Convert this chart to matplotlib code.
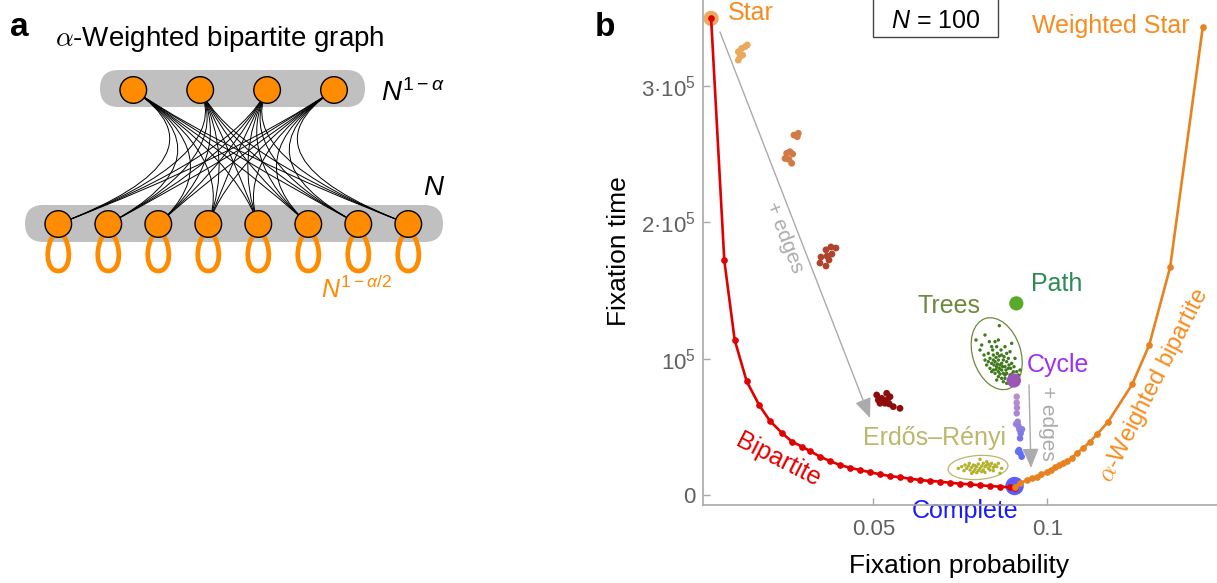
import matplotlib
matplotlib.use('Agg')
import matplotlib.pyplot as plt
from matplotlib.patches import Circle, Ellipse, FancyBboxPatch, Rectangle, PathPatch
from matplotlib.path import Path

plt.rcParams['font.family'] = ['Liberation Sans', 'DejaVu Sans']
plt.rcParams['mathtext.fontset'] = 'custom'
plt.rcParams['mathtext.rm'] = 'Liberation Sans'
plt.rcParams['mathtext.it'] = 'Liberation Sans:italic'
plt.rcParams['mathtext.bf'] = 'Liberation Sans:bold'

W, H, DPI = 1217, 583, 100

# ------------------------------------------------------------------ data
# Bipartite family (red), from the Star to the Complete graph
bip_p = [0.0034, 0.00718, 0.01017, 0.01362, 0.01724, 0.02032, 0.02368, 0.02664,
         0.0296, 0.0318, 0.0347, 0.0376, 0.0404, 0.0433, 0.0462, 0.0491, 0.0519,
         0.0548, 0.0577, 0.0605, 0.0634, 0.0663, 0.0692, 0.0720, 0.0749, 0.0778,
         0.0807, 0.0835, 0.0864, 0.0893, 0.0906]
bip_t = [349700, 172200, 113700, 83400, 65800, 54300, 45700, 39100,
         35400, 32300, 28100, 24900, 22000, 20000, 18300, 16700, 15200,
         13900, 13000, 12000, 11000, 10300, 9800, 9000, 8300, 7850,
         7100, 6600, 6100, 5650, 5500]

# alpha-weighted bipartite family (orange), from Complete to Weighted Star
wbip_p = [0.0906, 0.0922, 0.0941, 0.0955, 0.0970, 0.0983, 0.0998, 0.1011, 0.1022,
          0.1034, 0.1046, 0.1058, 0.1070, 0.1084, 0.1103, 0.1123, 0.1144, 0.1175,
          0.1244, 0.1293, 0.1353, 0.1447]
wbip_t = [6000, 8700, 11000, 12200, 13400, 15200, 17100, 18700, 20300,
          21800, 23300, 25000, 26900, 30600, 34300, 39100, 44800, 53800,
          81200, 110100, 167100, 343600]

star_p, star_t = 0.0034, 349700
complete_p, complete_t = 0.0906, 6600
cycle_p, cycle_t = 0.0904, 84000
path_p, path_t = 0.0911, 140600

# Star + edges clusters (light -> dark)
se1_p = [0.01121, 0.01218, 0.01313, 0.01379, 0.01170, 0.01121, 0.01247]
se1_t = [325200, 327700, 328900, 330200, 321600, 319100, 322800]
se2_p = [0.02721, 0.02845, 0.02816, 0.02511, 0.02606, 0.02684, 0.02463, 0.02578, 0.02655]
se2_t = [264100, 265400, 262900, 250700, 251900, 250200, 246900, 246200, 243400]
se3_p = [0.03641, 0.03784, 0.03928, 0.03497, 0.03670, 0.03813, 0.03468, 0.03641, 0.03727]
se3_t = [179900, 182000, 181200, 174600, 175300, 176800, 170200, 168000, 172400]
se4_p = [0.05098, 0.05241, 0.05385, 0.05480, 0.05193, 0.05336, 0.05460, 0.05575,
         0.05767, 0.05144, 0.05402]
se4_t = [73400, 70900, 74600, 72100, 67300, 67300, 66800, 64800, 63600, 69700, 69700]

# Random trees
trees_p = [0.08622, 0.08210, 0.07952, 0.08115, 0.08335, 0.08498, 0.08594, 0.08402,
           0.08546, 0.08670, 0.08785, 0.08977, 0.08210, 0.08354, 0.08450, 0.08565,
           0.08689, 0.08833, 0.08929, 0.09073, 0.08258, 0.08402, 0.08498, 0.08594,
           0.08737, 0.08833, 0.08977, 0.08354, 0.08450, 0.08546, 0.08641, 0.08785,
           0.08881, 0.09025, 0.08498, 0.08594, 0.08689, 0.08737, 0.08833, 0.08929,
           0.09121, 0.08594, 0.08689, 0.08785, 0.08881, 0.08977, 0.08737, 0.08833,
           0.09168, 0.09216, 0.08431, 0.08527, 0.08622, 0.08757, 0.08469, 0.08565,
           0.08689, 0.08900, 0.08306, 0.08402, 0.08527, 0.08622, 0.08814, 0.08948,
           0.08641, 0.08785, 0.08977, 0.08718, 0.08450, 0.08881, 0.09044, 0.08546,
           0.09073, 0.08067, 0.08182, 0.08306]
trees_t = [124240, 117390, 113720, 110050, 112500, 112500, 113720, 108830,
           108830, 106380, 108830, 111270, 99040, 100260, 102710, 103930,
           102710, 103930, 105160, 100260, 95370, 96600, 97820, 99040,
           99040, 97820, 96600, 92930, 91700, 94150, 95370, 94150,
           92930, 90480, 89260, 90480, 91700, 89260, 89260, 88040,
           90480, 86810, 85590, 85590, 84370, 85590, 83140, 81920,
           88040, 91700, 106380, 101000, 101980, 101490, 95370, 96110,
           96600, 95370, 97820, 90480, 92200, 92930, 91700, 92930,
           88770, 88040, 88770, 94150, 99040, 100260, 94150, 84370,
           84370, 106380, 102710, 103930]

# Erdos-Renyi graphs
er_p = [0.07444, 0.07540, 0.07636, 0.07683, 0.07731, 0.07779, 0.07827, 0.07875,
        0.07923, 0.07971, 0.08019, 0.08067, 0.08115, 0.08162, 0.08210, 0.08258,
        0.08306, 0.08354, 0.08402, 0.08450, 0.08498, 0.08546, 0.08641, 0.08689,
        0.08067, 0.08258, 0.07875, 0.07971, 0.08162, 0.08354, 0.07760, 0.07607,
        0.08450, 0.08594, 0.07827, 0.08115, 0.08306, 0.08019, 0.07923, 0.08210]
er_t = [19550, 20770, 21990, 19550, 21260, 18320, 20280, 21990,
        18810, 20770, 22730, 19550, 21260, 18320, 20770, 21990,
        19550, 21260, 23220, 20280, 21990, 20770, 15880, 19550,
        26150, 24440, 17100, 16370, 23220, 18320, 23220, 17840,
        17840, 23220, 15880, 17100, 22730, 17840, 21500, 16610]

# Cycle + edges
ce_p = [0.09121, 0.09121, 0.09130, 0.09121, 0.09102, 0.09150, 0.09169, 0.09198,
        0.09275, 0.09236, 0.09217, 0.09159, 0.09188, 0.09227, 0.09265]
ce_t = [72120, 67720, 64050, 59940, 52070, 53780, 50840, 48200,
        48200, 45270, 41600, 31800, 33020, 30590, 28100]

xticks = [0.05, 0.1]
xtick_labels = ['0.05', '0.1']
yticks = [0, 1e5, 2e5, 3e5]
ytick_labels = ['0', '$10^5$', '2·$10^5$', '3·$10^5$']

# ------------------------------------------------------------------ figure
fig = plt.figure(figsize=(W / DPI, H / DPI), dpi=DPI)
ax0 = fig.add_axes([0, 0, 1, 1], zorder=0)
ax0.set_xlim(0, W)
ax0.set_ylim(H, 0)
ax0.axis('off')

ORANGE = '#ff8c00'
BAND = '#c0c0c0'

# ---- panel a (pixel coordinates)
fig.text(10 / W, 1 - 36 / H, 'a', fontsize=24, fontweight='bold', ha='left', va='baseline')
ax0.text(55, 46, r'$\alpha$-Weighted bipartite graph', fontsize=20, ha='left',
         va='baseline', math_fontfamily='cm')

ax0.add_patch(FancyBboxPatch((100, 70), 265, 37,
                             boxstyle='round,pad=0,rounding_size=18.5',
                             fc=BAND, ec='none', zorder=1))
ax0.add_patch(FancyBboxPatch((25, 205), 418, 37,
                             boxstyle='round,pad=0,rounding_size=18.5',
                             fc=BAND, ec='none', zorder=1))

top_x = [133.3 + 66.9 * i for i in range(4)]
bot_x = [58.3 + 50 * i for i in range(8)]
top_y, bot_y = 90, 224
ctrl = (233.5, 157)
for xt in top_x:
    for xb in bot_x:
        pth = Path([(xt, top_y), ctrl, (xb, bot_y)], [Path.MOVETO, Path.CURVE3, Path.CURVE3])
        ax0.add_patch(PathPatch(pth, fc='none', ec='black', lw=0.7, zorder=2))
for xb in bot_x:
    loop = Path([(xb - 3, 232), (xb - 14, 246), (xb - 13, 271), (xb, 271),
                 (xb + 13, 271), (xb + 14, 246), (xb + 3, 232)],
                [Path.MOVETO, Path.CURVE4, Path.CURVE4, Path.CURVE4,
                 Path.CURVE4, Path.CURVE4, Path.CURVE4])
    ax0.add_patch(PathPatch(loop, fc='none', ec=ORANGE, lw=3.4, zorder=2))
for xt in top_x:
    ax0.add_patch(Circle((xt, top_y), 13.3, fc=ORANGE, ec='black', lw=1, zorder=3))
for xb in bot_x:
    ax0.add_patch(Circle((xb, bot_y), 13.3, fc=ORANGE, ec='black', lw=1, zorder=3))

ax0.text(381, 101, r'$N^{1-\alpha}$', fontsize=20, ha='left', va='baseline')
ax0.text(423, 195, r'$N$', fontsize=20, ha='left', va='baseline')
ax0.text(321, 298, r'$N^{1-\alpha/2}$', fontsize=18, ha='left', va='baseline', color=ORANGE)

# ---- panel b
fig.text(595 / W, 1 - 36 / H, 'b', fontsize=24, fontweight='bold', ha='left', va='baseline')

ax = fig.add_axes([702.7 / W, (H - 505.3) / H, (W - 702.7) / W, 505.3 / H], zorder=1)
ax.patch.set_alpha(0)
ax.set_xlim(0.00098, 0.14877)
ax.set_ylim(-7560, 363200)
for s in ['top', 'right']:
    ax.spines[s].set_visible(False)
for s in ['left', 'bottom']:
    ax.spines[s].set_color('#a8a8a8')
    ax.spines[s].set_linewidth(1.2)
ax.set_xticks(xticks)
ax.set_xticklabels(xtick_labels)
ax.set_yticks(yticks)
ax.set_yticklabels(ytick_labels)
ax.tick_params(axis='both', direction='in', length=5, width=1, color='#a8a8a8',
               labelsize=16, labelcolor='#606060')
ax.tick_params(axis='x', pad=10)
ax.tick_params(axis='y', pad=5)

# curves
ax.plot(bip_p, bip_t, '-o', color='#e00000', lw=1.9, ms=3.8, zorder=3, clip_on=False)
ax.plot(wbip_p, wbip_t, '-o', color='#e8821e', lw=1.9, ms=3.8, zorder=3, clip_on=False)

# star + edges clusters
for p, t, c in [(se1_p, se1_t, '#eaa95c'), (se2_p, se2_t, '#d37a44'),
                (se3_p, se3_t, '#b0432b'), (se4_p, se4_t, '#8e0c0c')]:
    ax.scatter(p, t, s=24, color=c, edgecolors='none', zorder=4, clip_on=False)

ax.scatter(trees_p, trees_t, s=6, color='#3f7a1c', edgecolors='none', zorder=4)
ax.scatter(er_p, er_t, s=6, color='#b3b22c', edgecolors='none', zorder=4)

ce_colors = ['#bb8cce', '#b68ace', '#b088d0', '#ab86d2', '#a083d6', '#9c82d8',
             '#9480dc', '#8b7ee0', '#8a7ee2', '#8079e6', '#7675ea', '#6a70f0',
             '#6670f2', '#626ef4', '#5e6cf6']
ax.scatter(ce_p, ce_t, s=22, color=ce_colors, edgecolors='none', zorder=4)

ax.scatter([star_p], [star_t], s=120, color='#ebaa5f', edgecolors='none', zorder=2, clip_on=False)
ax.scatter([complete_p], [complete_t], s=175, color='#5c5cff', edgecolors='none', zorder=2, clip_on=False)
ax.scatter([cycle_p], [cycle_t], s=105, color='#9b55b4', edgecolors='none', zorder=5)
ax.scatter([path_p], [path_t], s=105, color='#5aaa2a', edgecolors='none', zorder=5)

# ellipses around clusters (pixel space)
ax0.add_patch(Ellipse((996.7, 353.7), 48, 74, angle=-18, fc='none', ec='#6b8a3a', lw=0.9, zorder=1))
ax0.add_patch(Ellipse((978, 467.5), 60, 24, angle=-4, fc='none', ec='#bdb76b', lw=0.9, zorder=1))

# arrows
ax0.annotate('', xy=(870, 418), xytext=(720, 32),
             arrowprops=dict(arrowstyle='-|>,head_length=0.6,head_width=0.25',
                             color='#ababab', lw=1, mutation_scale=20, shrinkA=0, shrinkB=0))
ax0.annotate('', xy=(1031, 468), xytext=(1029, 385),
             arrowprops=dict(arrowstyle='-|>,head_length=0.6,head_width=0.25',
                             color='#ababab', lw=1, mutation_scale=20, shrinkA=0, shrinkB=0))
ax0.text(784, 237, '+ edges', fontsize=15, color='#ababab', rotation=-68.8,
         ha='center', va='center', rotation_mode='anchor')
ax0.text(1048, 423, '+ edges', fontsize=15, color='#ababab', rotation=-90,
         ha='center', va='center', rotation_mode='anchor')

# labels
LAB = 18
ax0.text(728, 20, 'Star', fontsize=LAB, color='#f68c1f', ha='left', va='baseline')
ax0.text(1190, 33, 'Weighted Star', fontsize=LAB, color='#f68c1f', ha='right', va='baseline')
ax0.text(1031, 291, 'Path', fontsize=LAB, color='#2e8b57', ha='left', va='baseline')
ax0.text(917, 313, 'Trees', fontsize=LAB, color='#6b8a3a', ha='left', va='baseline')
ax0.text(1027, 372, 'Cycle', fontsize=LAB, color='#a030f0', ha='left', va='baseline')
ax0.text(863, 445, 'Erdős–Rényi', fontsize=LAB, color='#bdb76b', ha='left', va='baseline')
ax0.text(912, 518, 'Complete', fontsize=LAB, color='#1a1aff', ha='left', va='baseline')
ax0.text(778, 460, 'Bipartite', fontsize=LAB, color='#e60000', rotation=-27,
         ha='center', va='center', rotation_mode='anchor')
ax0.text(1154, 386, r'$\alpha$-Weighted bipartite', fontsize=17, color='#f68c1f',
         rotation=63, ha='center', va='center', rotation_mode='anchor', math_fontfamily='cm')

# N = 100 box
ax0.add_patch(Rectangle((873, -2), 125, 39, fc='white', ec='#444444', lw=1, zorder=6))
ax0.text(935.5, 28, r'$N$ = 100', fontsize=18, ha='center', va='baseline', zorder=7)

# axis labels
ax0.text(959, 573, 'Fixation probability', fontsize=19, ha='center', va='baseline')
ax0.text(619, 251, 'Fixation time', fontsize=19, ha='center', va='center', rotation=90)

fig.savefig('out.png', dpi=DPI)
